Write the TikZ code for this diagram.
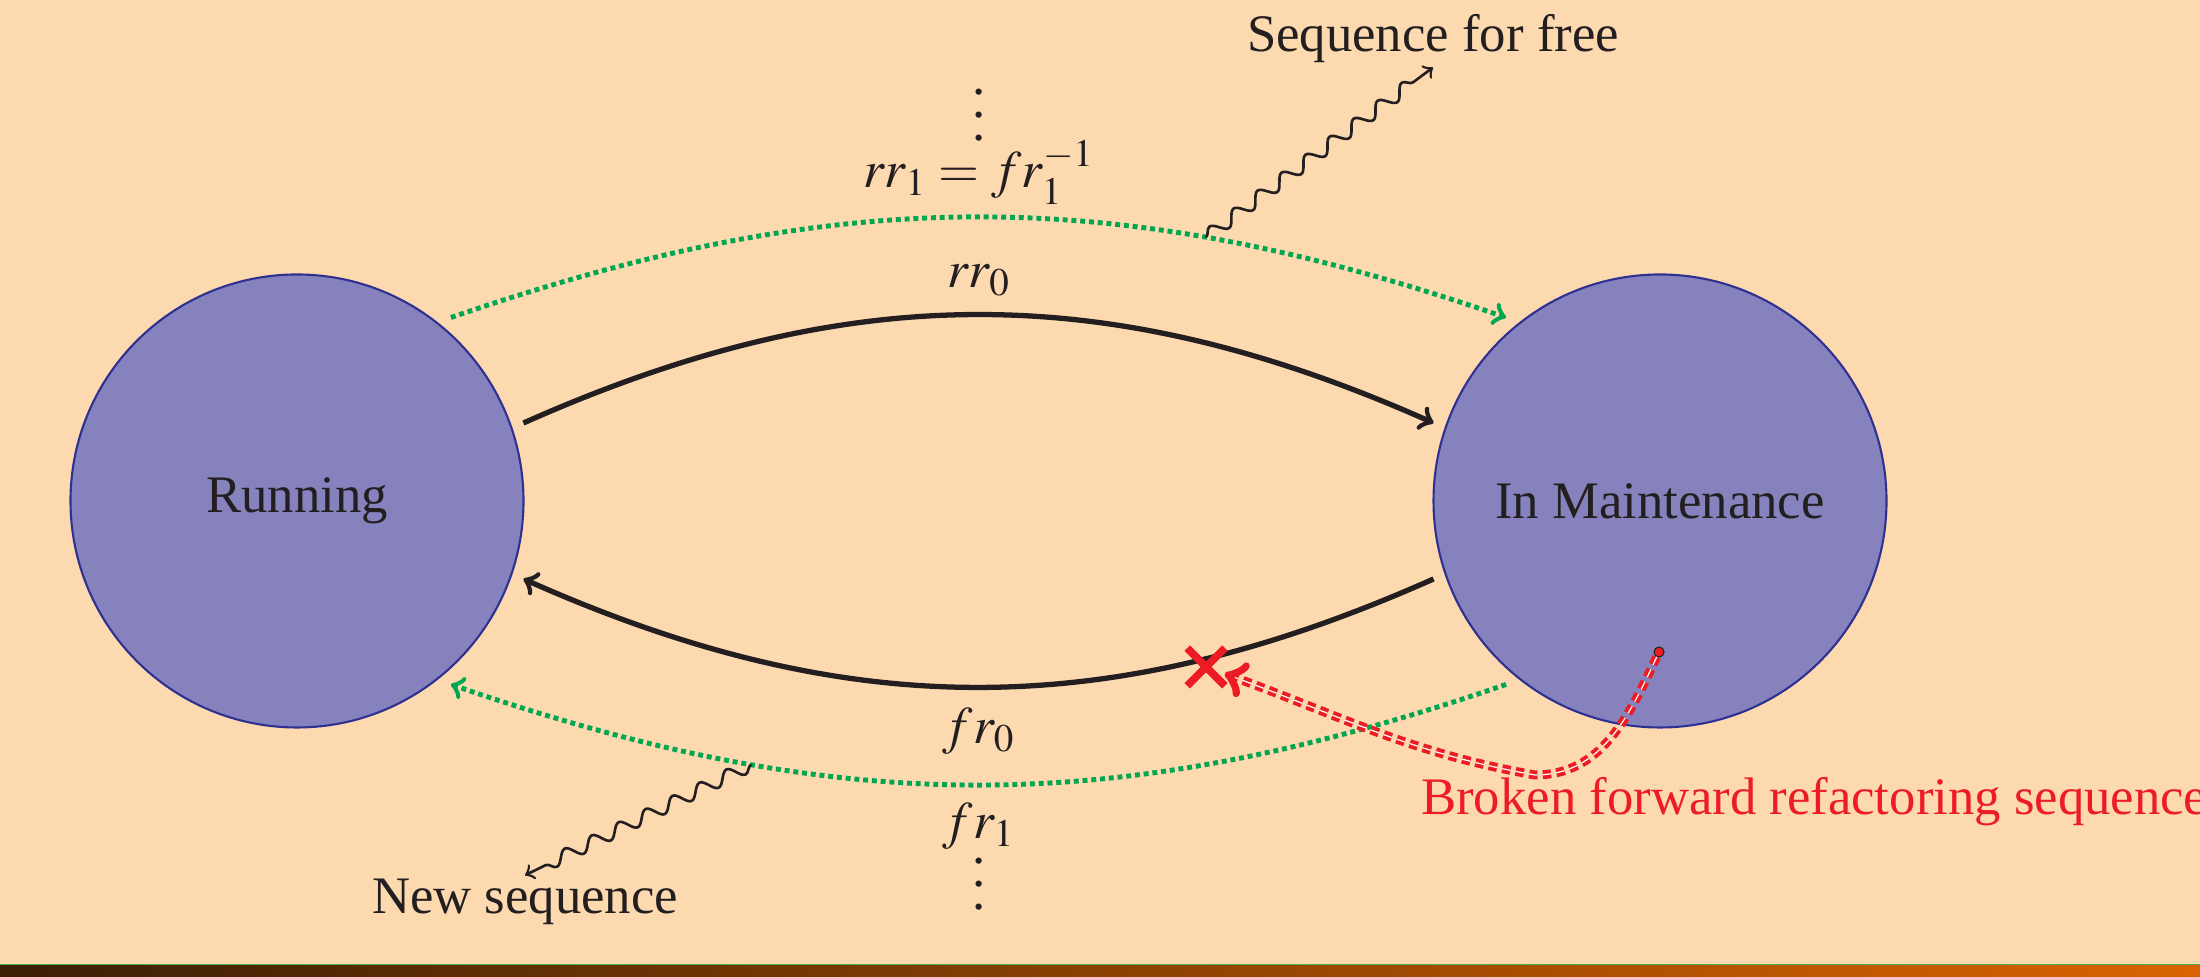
\documentclass[tikz,border=0pt]{standalone}
\usepackage{mathptmx}
\usepackage[no-math]{fontspec}
\setmainfont{Liberation Serif}
\usetikzlibrary{arrows,positioning,calc,decorations.pathmorphing,shapes.misc}
\definecolor{peach}{RGB}{253,217,176}
\definecolor{statefill}{RGB}{134,130,189}
\definecolor{stateline}{RGB}{46,49,146}
\definecolor{seqgreen}{RGB}{0,166,81}
\definecolor{seqred}{RGB}{237,28,36}
\definecolor{inkblack}{RGB}{35,31,32}
\definecolor{barleft}{RGB}{58,30,5}
\definecolor{barright}{RGB}{217,99,0}
\definecolor{barline}{RGB}{76,175,80}
\newcommand{\tallvdots}{\vbox{\baselineskip=6.5pt\lineskiplimit=0pt\hbox{.}\hbox{.}\hbox{.}}}
\tikzset{
 state/.style={circle,draw=stateline,line width=0.6pt,fill=statefill,minimum size=4.53cm,outer sep=0.13cm,text=inkblack},
 refac/.style={->,line width=1.5pt,inkblack},
 seqflow/.style={->,seqgreen,line width=1.4pt,dash pattern=on 1.4pt off 1.1pt},
 wavy/.style={->,inkblack,line width=0.75pt,decorate,decoration={snake,amplitude=0.065cm,segment length=0.3cm,post length=0.12cm}},
 broken/.style={->,draw=seqred,double=white,line width=1.1pt,double distance=0.35pt,dash pattern=on 2.4pt off 1.5pt},
 lbl/.style={text=inkblack,inner sep=1pt}
}

\begin{document}
\begin{tikzpicture}[every node/.style={font=\fontsize{15}{18}\selectfont}]
\clip (0,0) rectangle (22,9.77);
\fill[peach] (0,0) rectangle (22,9.77);
\shade[left color=barleft,right color=barright] (0,0) rectangle (22,0.12);
\draw[barline,line width=0.4pt] (0,0.125) -- (22,0.125);

\node[state] (run) at (2.97,4.76) {Running};
\node[state] (maint) at (16.60,4.76) {In Maintenance};

\draw[refac] (run.19) to[bend left=24] (maint.161);
\draw[seqflow] (run.50) to[bend left=19] coordinate[pos=0.725] (freestart) (maint.130);
\draw[refac] (maint.199) to[bend left=24] (run.341);
\draw[seqflow] (maint.230) to[bend left=19] coordinate[pos=0.725] (newstart) (run.310);

\node[lbl] (vtop) at (9.79,8.62) {\tallvdots};
\node[lbl,anchor=base] (rrone) at (9.79,7.89) {$rr_1 = fr_1^{-1}$};
\node[lbl,anchor=base] (rrzero) at (9.79,6.89) {$rr_0$};
\node[lbl,anchor=base] (frzero) at (9.79,2.33) {$fr_0$};
\node[lbl,anchor=base] (frone) at (9.79,1.38) {$fr_1$};
\node[lbl] (vbot) at (9.79,0.93) {\tallvdots};

\node[lbl,anchor=base] (free) at (14.33,9.25) {Sequence for free};
\node[lbl,anchor=base] (newseq) at (5.25,0.63) {New sequence};
\draw[wavy] (freestart) -- (free.south);
\draw[wavy] (newstart) -- (newseq.north);

\node[cross out,draw=seqred,line width=2.2pt,minimum size=0.3cm,inner sep=0pt] (xmark) at (12.06,3.10) {};
\node[circle,fill=seqred,draw=inkblack,line width=0.3pt,inner sep=0pt,minimum size=0.1cm] (reddot) at (16.59,3.25) {};
\draw[broken] (reddot) to[out=245,in=0] (15.35,2.02) to[out=170,in=-20] (xmark);
\node[lbl,anchor=base west,text=seqred] (brokenlbl) at (14.17,1.62) {Broken forward refactoring sequence};
\end{tikzpicture}
\end{document}
